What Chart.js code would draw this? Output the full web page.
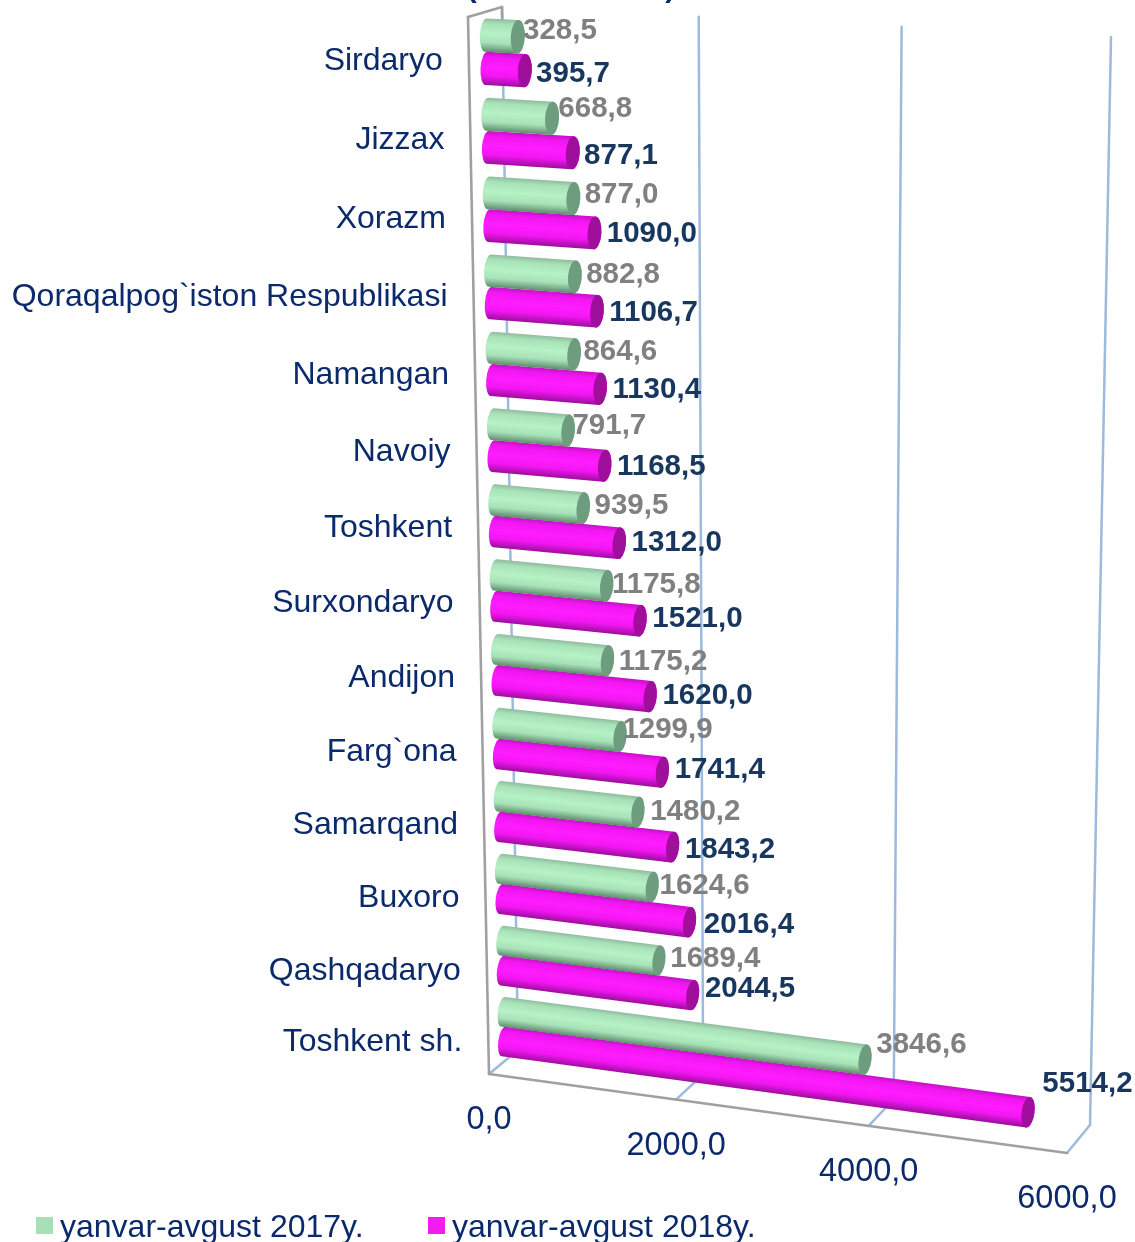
<!DOCTYPE html>
<html>
<head>
<meta charset="utf-8">
<style>
  html, body { margin: 0; padding: 0; background: #fff; overflow: hidden; }
  canvas { display: block; }
</style>
<script src="https://cdn.jsdelivr.net/npm/chart.js@4/dist/chart.umd.min.js"></script>
</head>
<body>
<canvas id="chart" width="1135" height="1242"></canvas>
<script>
const categories = ['Sirdaryo', 'Jizzax', 'Xorazm', 'Qoraqalpog`iston Respublikasi', 'Namangan', 'Navoiy',
  'Toshkent', 'Surxondaryo', 'Andijon', 'Farg`ona', 'Samarqand', 'Buxoro', 'Qashqadaryo', 'Toshkent sh.'];
const values2017 = [328.5, 668.8, 877.0, 882.8, 864.6, 791.7, 939.5, 1175.8, 1175.2, 1299.9, 1480.2, 1624.6, 1689.4, 3846.6];
const values2018 = [395.7, 877.1, 1090.0, 1106.7, 1130.4, 1168.5, 1312.0, 1521.0, 1620.0, 1741.4, 1843.2, 2016.4, 2044.5, 5514.2];
const seriesNames = ['yanvar-avgust 2017y.', 'yanvar-avgust 2018y.'];
const valueTicks = [0, 2000, 4000, 6000];
const titleText = '(mlrd. so`mda)';

const NAVY = '#0b2a6b';
const FONT = '"Liberation Sans", Arial, sans-serif';

// corners of the 3d box on screen: top-left, top-right, bottom-right, bottom-left
const frontPlane = makePlane([468, 17], [1083, 51], [1067, 1153], [489, 1074]);
const backPlane = makePlane([502, 7], [1111, 37], [1090, 1125], [518, 1050]);
const barPlane = makePlane([485.5, 12], [1095, 44], [1076, 1140], [504, 1062]);

// square -> quad perspective map
function makePlane(p0, p1, p2, p3) {
  const dx1 = p1[0] - p2[0], dx2 = p3[0] - p2[0], sx = p0[0] - p1[0] + p2[0] - p3[0];
  const dy1 = p1[1] - p2[1], dy2 = p3[1] - p2[1], sy = p0[1] - p1[1] + p2[1] - p3[1];
  const det = dx1 * dy2 - dx2 * dy1;
  const g = (sx * dy2 - dx2 * sy) / det;
  const h = (dx1 * sy - sx * dy1) / det;
  const a = p1[0] - p0[0] + g * p1[0], b = p3[0] - p0[0] + h * p3[0];
  const d = p1[1] - p0[1] + g * p1[1], e = p3[1] - p0[1] + h * p3[1];
  return (u, v) => {
    const w = g * u + h * v + 1;
    return [(a * u + b * v + p0[0]) / w, (d * u + e * v + p0[1]) / w];
  };
}

function line(ctx, a, b, color, width) {
  ctx.strokeStyle = color;
  ctx.lineWidth = width;
  ctx.beginPath();
  ctx.moveTo(a[0], a[1]);
  ctx.lineTo(b[0], b[1]);
  ctx.stroke();
}

function cylinder(ctx, a1, a2, b1, b2, colors) {
  // a1/a2 = top and bottom of the base end, b1/b2 = top and bottom of the value end
  const midA = [(a1[0] + a2[0]) / 2, (a1[1] + a2[1]) / 2];
  const midB = [(b1[0] + b2[0]) / 2, (b1[1] + b2[1]) / 2];
  const angle = Math.atan2(midB[1] - midA[1], midB[0] - midA[0]);
  const rA = Math.hypot(a2[0] - a1[0], a2[1] - a1[1]) / 2;
  const rB = Math.hypot(b2[0] - b1[0], b2[1] - b1[1]) / 2;

  // shade across the cylinder, square to its axis
  const cx = (midA[0] + midB[0]) / 2, cy = (midA[1] + midB[1]) / 2;
  const r = (rA + rB) / 2;
  const nx = -Math.sin(angle) * r, ny = Math.cos(angle) * r;
  const grad = ctx.createLinearGradient(cx - nx, cy - ny, cx + nx, cy + ny);
  grad.addColorStop(0, colors.edge);
  grad.addColorStop(0.16, colors.mid);
  grad.addColorStop(0.45, colors.light);
  grad.addColorStop(0.72, colors.mid);
  grad.addColorStop(1, colors.shade);

  ctx.fillStyle = grad;
  ctx.beginPath();
  ctx.ellipse(midA[0], midA[1], rA * 0.36, rA, angle, Math.PI * 0.5, Math.PI * 1.5);
  ctx.ellipse(midB[0], midB[1], rB * 0.42, rB, angle, -Math.PI * 0.5, Math.PI * 0.5);
  ctx.closePath();
  ctx.fill();

  ctx.fillStyle = colors.cap;
  ctx.beginPath();
  ctx.ellipse(midB[0], midB[1], rB * 0.42, rB, angle, 0, Math.PI * 2);
  ctx.fill();
}

const barColors = [
  { edge: '#8fbb9e', mid: '#a8e2b8', light: '#b6f2c6', shade: '#5f8c6e', cap: '#6e9c7e' },
  { edge: '#c412c4', mid: '#f216f2', light: '#ff1cff', shade: '#9c0e9c', cap: '#a00f9c' }
];
const labelColors = ['#808080', '#17375e'];
const labelOffset = [[2, -3], [6, 1]];
// hand placement of the value labels in the original, dx/dy per category
const labelNudge = [
  [[-3, -3], [-2, -6], [3, -1], [3, 1], [1, 1], [-4, -2], [3, 1], [-3, 2], [3, 4], [-6, -4], [4, 3], [-1, 2], [3, 1], [3, -12]],
  [[-1, 2], [-1, 2], [0, 0], [0, 1], [0, 0], [0, 0], [0, -1], [0, -3], [0, -2], [0, -3], [0, 2], [2, 2], [0, -7], [2, -29]]
];

const box3d = {
  id: 'box3d',
  beforeDatasetsDraw(chart) {
    const ctx = chart.ctx;
    const area = chart.chartArea;
    const xScale = chart.scales.x;
    ctx.save();
    ctx.lineCap = 'round';

    // walls: value gridlines up the back and across the floor
    valueTicks.forEach(tick => {
      const u = (xScale.getPixelForValue(tick) - area.left) / area.width;
      const bottom = backPlane(u, 1);
      line(ctx, backPlane(u, 0), bottom, '#9db9dc', 2.5);
      line(ctx, bottom, frontPlane(u, 1), '#9db9dc', 2.5);
    });
    line(ctx, frontPlane(0, 0), frontPlane(0, 1), '#a0a0a0', 2.6);
    line(ctx, frontPlane(0, 1), frontPlane(1, 1), '#a0a0a0', 2.6);
    line(ctx, frontPlane(0, 0), backPlane(0, 0), '#a0a0a0', 2.6);
    line(ctx, backPlane(0, 0), backPlane(0, 0.012), '#a0a0a0', 2.6);

    // 2018 goes first so the 2017 bar sits over it
    [1, 0].forEach(ds => {
      chart.getDatasetMeta(ds).data.forEach(bar => {
        const u0 = (bar.base - area.left) / area.width;
        const u1 = (bar.x - area.left) / area.width;
        const v0 = (bar.y - bar.height / 2 - area.top) / area.height;
        const v1 = (bar.y + bar.height / 2 - area.top) / area.height;
        cylinder(ctx, barPlane(u0, v0), barPlane(u0, v1), barPlane(u1, v0), barPlane(u1, v1), barColors[ds]);
      });
    });
    ctx.restore();
  },
  beforeDatasetDraw() {
    return false;
  },
  afterDraw(chart) {
    const ctx = chart.ctx;
    const area = chart.chartArea;
    const xScale = chart.scales.x;
    const yScale = chart.scales.y;
    ctx.save();
    ctx.textBaseline = 'middle';

    // value labels
    ctx.font = 'bold 29.5px ' + FONT;
    ctx.textAlign = 'left';
    chart.data.datasets.forEach((dataset, ds) => {
      ctx.fillStyle = labelColors[ds];
      chart.getDatasetMeta(ds).data.forEach((bar, i) => {
        const u = (bar.x - area.left) / area.width;
        const v = (bar.y - area.top) / area.height;
        const tip = barPlane(u, v);
        const halfCap = bar.height * 0.17;
        const nudge = labelNudge[ds][i];
        ctx.fillText(dataset.data[i].toFixed(1).replace('.', ','), tip[0] + halfCap + labelOffset[ds][0] + nudge[0], tip[1] + labelOffset[ds][1] + nudge[1]);
      });
    });

    // category labels follow the front edge
    ctx.font = '32px ' + FONT;
    ctx.fillStyle = NAVY;
    ctx.textAlign = 'right';
    categories.forEach((name, i) => {
      const v = (yScale.getPixelForTick(i) - area.top) / area.height;
      const p = frontPlane(0, v);
      ctx.fillText(name, p[0] - 26, p[1] + 4);
    });

    // value axis labels
    ctx.font = '32.5px ' + FONT;
    ctx.textAlign = 'center';
    valueTicks.forEach(tick => {
      const u = (xScale.getPixelForValue(tick) - area.left) / area.width;
      const p = frontPlane(u, 1);
      ctx.fillText(tick.toFixed(1).replace('.', ','), p[0], p[1] + 46.5);
    });

    // title sits mostly above the top of the picture
    ctx.font = 'bold 30px ' + FONT;
    ctx.textBaseline = 'alphabetic';
    ctx.fillText(titleText, 571, -3);

    // legend
    ctx.font = '32px ' + FONT;
    ctx.textAlign = 'left';
    ctx.textBaseline = 'middle';
    const legendX = [36, 428];
    seriesNames.forEach((name, i) => {
      ctx.fillStyle = chart.data.datasets[i].backgroundColor;
      ctx.fillRect(legendX[i], 1217, 17, 17);
      ctx.fillStyle = NAVY;
      ctx.fillText(name, legendX[i] + 24, 1228);
    });
    ctx.restore();
  }
};

new Chart(document.getElementById('chart'), {
  type: 'bar',
  data: {
    labels: categories,
    datasets: [
      { label: seriesNames[0], data: values2017, backgroundColor: '#a9dfb6' },
      { label: seriesNames[1], data: values2018, backgroundColor: '#f01cf0' }
    ]
  },
  options: {
    indexAxis: 'y',
    responsive: false,
    animation: false,
    categoryPercentage: 0.84,
    barPercentage: 1,
    layout: { padding: 0 },
    plugins: {
      legend: { display: false },
      tooltip: { enabled: false }
    },
    scales: {
      x: { min: 0, max: 6000, ticks: { display: false, stepSize: 2000 }, grid: { display: false }, border: { display: false } },
      y: { ticks: { display: false }, grid: { display: false }, border: { display: false } }
    }
  },
  plugins: [box3d]
});
</script>
</body>
</html>
